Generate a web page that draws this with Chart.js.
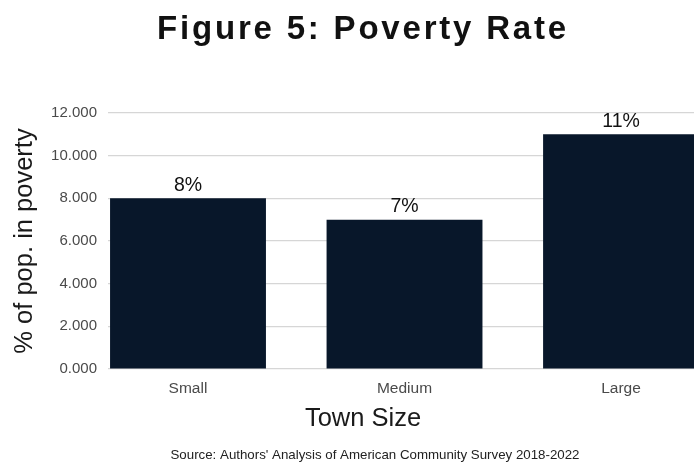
<!DOCTYPE html>
<html>
<head>
<meta charset="utf-8">
<script src="https://cdn.jsdelivr.net/npm/chart.js@4/dist/chart.umd.min.js"></script>
<style>
  html, body { margin: 0; padding: 0; background: #ffffff; overflow: hidden; }
  #wrap { position: relative; width: 694px; height: 463px; }
</style>
</head>
<body>
<div id="wrap"><canvas id="c"></canvas></div>
<script>
// Town size categories and their poverty rates (percent)
const categories = ['Small', 'Medium', 'Large'];
const povertyRate = [8, 7, 11];
const yTicks = [0, 2, 4, 6, 8, 10, 12];

const titleText = 'Figure 5: Poverty Rate';
const xTitleText = 'Town Size';
const yTitleText = '% of pop. in poverty';
const sourceText = "Source: Authors' Analysis of American Community Survey 2018-2022";

const FONT = "'Liberation Sans', Arial, Helvetica, sans-serif";
const BAR = '#08172a';

// Headline, x-axis title and source note
const textPlugin = {
  id: 'texts',
  afterDraw(chart) {
    const ctx = chart.ctx;
    ctx.save();
    ctx.textAlign = 'center';
    ctx.textBaseline = 'alphabetic';

    ctx.fillStyle = '#111111';
    ctx.font = 'bold 33px ' + FONT;
    ctx.letterSpacing = '2.8px';
    ctx.fillText(titleText, 363, 39);

    ctx.letterSpacing = '0px';
    ctx.fillStyle = '#1a1a1a';
    ctx.font = '25.5px ' + FONT;
    ctx.fillText(xTitleText, 363, 426);

    ctx.fillStyle = '#222222';
    ctx.font = '13.3px ' + FONT;
    ctx.fillText(sourceText, 375, 459);
    ctx.restore();
  }
};

// Percent labels above each bar
const barLabelPlugin = {
  id: 'barLabels',
  afterDatasetsDraw(chart) {
    const ctx = chart.ctx;
    const meta = chart.getDatasetMeta(0);
    ctx.save();
    ctx.fillStyle = '#111111';
    ctx.font = '19.5px ' + FONT;
    ctx.textAlign = 'center';
    ctx.textBaseline = 'bottom';
    meta.data.forEach((bar, i) => {
      ctx.fillText(povertyRate[i] + '%', bar.x, bar.y - 3);
    });
    ctx.restore();
  }
};

new Chart(document.getElementById('c'), {
  type: 'bar',
  data: {
    datasets: [{
      data: povertyRate.map((v, i) => ({ x: i + 1, y: v })),
      backgroundColor: BAR,
      borderWidth: 0,
      barPercentage: 0.72,
      categoryPercentage: 1
    }]
  },
  options: {
    responsive: true,
    maintainAspectRatio: false,
    animation: false,
    layout: { padding: { top: 113, left: 0, right: 0, bottom: 0 } },
    plugins: {
      legend: { display: false },
      tooltip: { enabled: false },
      title: { display: false }
    },
    scales: {
      x: {
        type: 'linear',
        offset: false,
        min: 0.6305,
        max: 3.337,
        afterBuildTicks(scale) {
          scale.ticks = categories.map((_, i) => ({ value: i + 1 }));
        },
        afterFit(scale) { scale.height = 94; },
        grid: { display: false, drawTicks: false },
        border: { display: false },
        ticks: {
          padding: 10,
          color: '#4a4a4a',
          font: { family: FONT, size: 15.5 },
          maxRotation: 0,
          callback: (v) => categories[v - 1] || ''
        }
      },
      y: {
        min: 0,
        max: 12,
        afterBuildTicks(scale) {
          scale.ticks = yTicks.map(v => ({ value: v }));
        },
        afterFit(scale) { scale.width = 108; },
        grid: { color: '#d6d6d6', lineWidth: 1.2, drawTicks: false },
        border: { display: false },
        ticks: {
          padding: 11,
          color: '#4a4a4a',
          font: { family: FONT, size: 15 },
          callback: (v) => Number(v).toFixed(3)
        },
        title: {
          display: true,
          text: yTitleText,
          color: '#1a1a1a',
          font: { family: FONT, size: 25.5 },
          padding: { top: 10, bottom: 0 }
        }
      }
    }
  },
  plugins: [textPlugin, barLabelPlugin]
});
</script>
</body>
</html>
